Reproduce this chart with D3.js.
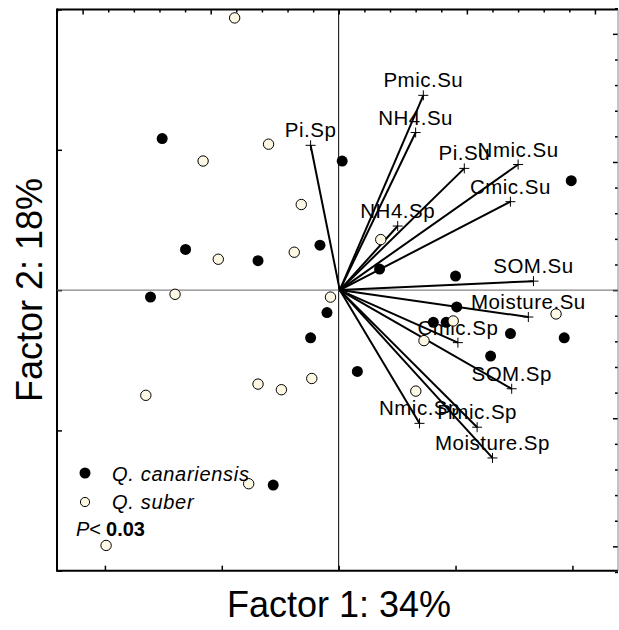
<!DOCTYPE html>
<html>
<head>
<meta charset="utf-8">
<script src="https://cdn.jsdelivr.net/npm/d3@7"></script>
<style>
  body { margin: 0; background: #fff; }
  svg { display: block; }
  text { font-family: Arial, "Liberation Sans", sans-serif; fill: #000; }
</style>
</head>
<body>
<svg id="myGraph" width="619" height="630"></svg>
<script>
// sample scores (factor 1, factor 2)
var canX = [-1.51, -1.31, -0.69, -0.16, 0.03, -1.61, 0.35, 1.00, 1.99, -0.10,
            -0.24, 0.16, 0.81, 0.92, 1.01, 1.47, 1.30, 1.93, -0.56];
var canY = [1.08, 0.29, 0.21, 0.32, 0.92, -0.05, 0.15, 0.10, 0.78, -0.16,
            -0.34, -0.58, -0.23, -0.23, -0.12, -0.31, -0.47, -0.34, -1.39];
var subX = [-0.89, -0.60, -1.16, -0.32, -1.03, -0.38, -1.40, 0.36, -1.65, -0.69,
            -0.49, -0.23, -0.77, -1.99, -0.07, 0.98, 0.73, 0.66, 1.86];
var subY = [1.94, 1.04, 0.92, 0.61, 0.22, 0.27, -0.03, 0.36, -0.75, -0.67,
            -0.71, -0.63, -1.38, -1.82, -0.05, -0.22, -0.36, -0.72, -0.17];

// variable loadings (drawn on the top/right scale)
var loadNames = ['Pmic.Su', 'NH4.Su', 'Pi.Su', 'Nmic.Su', 'Cmic.Su', 'NH4.Sp', 'SOM.Su',
                 'Pi.Sp', 'Moisture.Su', 'Cmic.Sp', 'SOM.Sp', 'Nmic.Sp', 'Pmic.Sp', 'Moisture.Sp'];
var loadX = [0.66, 0.60, 0.98, 1.40, 1.34, 0.46, 1.52, -0.22, 1.48, 0.93, 1.35, 0.63, 1.08, 1.20];
var loadY = [1.52, 1.23, 0.95, 0.98, 0.69, 0.50, 0.07, 1.13, -0.21, -0.41, -0.77, -1.04, -1.07, -1.31];

var xTicks = [-2, -1, 0, 1, 2];
var yTicks = [-2, -1, 0, 1, 2];
var loadTicks = d3.range(-22, 23, 2).map(function(d) { return d / 10; });

var legendNames = ['Q. canariensis', 'Q. suber'];
var xTitle = 'Factor 1: 34%';
var yTitle = 'Factor 2: 18%';

var plotLeft = 57, plotRight = 618, plotTop = 9.5, plotBottom = 570.7;
var cream = '#fdf8e4';

var svg = d3.select('#myGraph');

var x = d3.scaleLinear().domain([-2.41, 2.39]).range([plotLeft, plotRight]);
var y = d3.scaleLinear().domain([-2, 2]).range([plotBottom, plotTop]);
var x2 = d3.scaleLinear().domain([-2.2, 2.18]).range([plotLeft, plotRight]);
var y2 = d3.scaleLinear().domain([-2.19, 2.19]).range([plotBottom, plotTop]);

// axes with inward ticks, no labels
svg.append('g')
  .attr('transform', 'translate(0,' + plotBottom + ')')
  .call(d3.axisBottom(x).tickValues(xTicks).tickSize(-5).tickFormat(''))
  .call(function(g) { g.select('.domain').remove(); });
svg.append('g')
  .attr('transform', 'translate(' + plotLeft + ',0)')
  .call(d3.axisLeft(y).tickValues(yTicks).tickSize(-5).tickFormat(''))
  .call(function(g) { g.select('.domain').remove(); });
svg.append('g')
  .attr('transform', 'translate(0,' + plotTop + ')')
  .call(d3.axisTop(x2).tickValues(loadTicks).tickSize(-3).tickFormat(''))
  .call(function(g) {
    g.select('.domain').remove();
    g.selectAll('.tick line').attr('y2', function(d) { return Math.abs(d % 1) < 1e-6 ? 5 : 3; });
  });
svg.append('g')
  .attr('transform', 'translate(' + plotRight + ',0)')
  .call(d3.axisRight(y2).tickValues(loadTicks).tickSize(-3).tickFormat(''))
  .call(function(g) {
    g.select('.domain').remove();
    g.selectAll('.tick line').attr('x2', function(d) { return Math.abs(d % 1) < 1e-6 ? -5 : -3; });
  });
svg.selectAll('.tick line').attr('stroke', '#000').attr('stroke-width', 1.5);

// frame
svg.append('line').attr('x1', plotLeft).attr('x2', plotRight).attr('y1', plotTop).attr('y2', plotTop)
  .attr('stroke', '#000').attr('stroke-width', 2);
svg.append('line').attr('x1', plotLeft).attr('x2', plotRight).attr('y1', plotBottom).attr('y2', plotBottom)
  .attr('stroke', '#000').attr('stroke-width', 2);
svg.append('line').attr('x1', plotLeft).attr('x2', plotLeft).attr('y1', plotTop - 1).attr('y2', plotBottom + 1)
  .attr('stroke', '#000').attr('stroke-width', 2);
svg.append('line').attr('x1', plotRight).attr('x2', plotRight).attr('y1', plotTop).attr('y2', plotBottom)
  .attr('stroke', '#888').attr('stroke-width', 1);

// zero lines
svg.append('line').attr('x1', x(0)).attr('x2', x(0)).attr('y1', plotTop).attr('y2', plotBottom)
  .attr('stroke', '#000').attr('stroke-width', 1);
svg.append('line').attr('x1', plotLeft).attr('x2', plotRight).attr('y1', y(0)).attr('y2', y(0))
  .attr('stroke', '#666').attr('stroke-width', 1);

// loading arrows
var loads = loadNames.map(function(n, i) { return { name: n, x: loadX[i], y: loadY[i] }; });

svg.append('g').selectAll('line')
  .data(loads)
  .enter()
  .append('line')
  .attr('x1', x2(0) + 1)
  .attr('y1', y2(0))
  .attr('x2', function(d) { return x2(d.x); })
  .attr('y2', function(d) { return y2(d.y); })
  .attr('stroke', '#000')
  .attr('stroke-width', 2);

svg.append('g').selectAll('path')
  .data(loads)
  .enter()
  .append('path')
  .attr('d', function(d) {
    var cx = x2(d.x), cy = y2(d.y);
    return 'M' + (cx - 5) + ',' + cy + 'H' + (cx + 5) + 'M' + cx + ',' + (cy - 5) + 'V' + (cy + 5);
  })
  .attr('stroke', '#000')
  .attr('stroke-width', 1);

svg.append('g').selectAll('text')
  .data(loads)
  .enter()
  .append('text')
  .attr('x', function(d) { return x2(d.x); })
  .attr('y', function(d) { return y2(d.y) - 8; })
  .attr('text-anchor', 'middle')
  .style('font-size', '20.5px')
  .style('letter-spacing', '0.5px')
  .text(function(d) { return d.name; });

// sample points
svg.append('g').selectAll('circle')
  .data(canX)
  .enter()
  .append('circle')
  .attr('cx', function(d) { return x(d); })
  .attr('cy', function(d, i) { return y(canY[i]); })
  .attr('r', 5.5)
  .attr('fill', '#000');

svg.append('g').selectAll('circle')
  .data(subX)
  .enter()
  .append('circle')
  .attr('cx', function(d) { return x(d); })
  .attr('cy', function(d, i) { return y(subY[i]); })
  .attr('r', 5.2)
  .attr('fill', cream)
  .attr('stroke', '#000')
  .attr('stroke-width', 1);

// legend
svg.append('circle').attr('cx', 85).attr('cy', 473).attr('r', 5.5).attr('fill', '#000');
svg.append('circle').attr('cx', 85).attr('cy', 502).attr('r', 4.6)
  .attr('fill', cream).attr('stroke', '#000').attr('stroke-width', 1);
svg.selectAll('.legend')
  .data(legendNames)
  .enter()
  .append('text')
  .attr('class', 'legend')
  .attr('x', 112)
  .attr('y', function(d, i) { return 481 + i * 27.5; })
  .style('font-size', '20px')
  .style('font-style', 'italic')
  .style('letter-spacing', '0.7px')
  .text(function(d) { return d; });

var pText = svg.append('text').attr('x', 76).attr('y', 536).style('font-size', '20px');
pText.append('tspan').style('font-style', 'italic').text('P');
pText.append('tspan').text('<');
pText.append('tspan').attr('dx', 5).style('font-weight', 'bold').text('0.03');

// axis titles
svg.append('text')
  .attr('x', 339)
  .attr('y', 617)
  .attr('text-anchor', 'middle')
  .style('font-size', '36px')
  .text(xTitle);
svg.append('text')
  .attr('transform', 'translate(42,290) rotate(-90)')
  .attr('text-anchor', 'middle')
  .style('font-size', '36px')
  .text(yTitle);
</script>
</body>
</html>
